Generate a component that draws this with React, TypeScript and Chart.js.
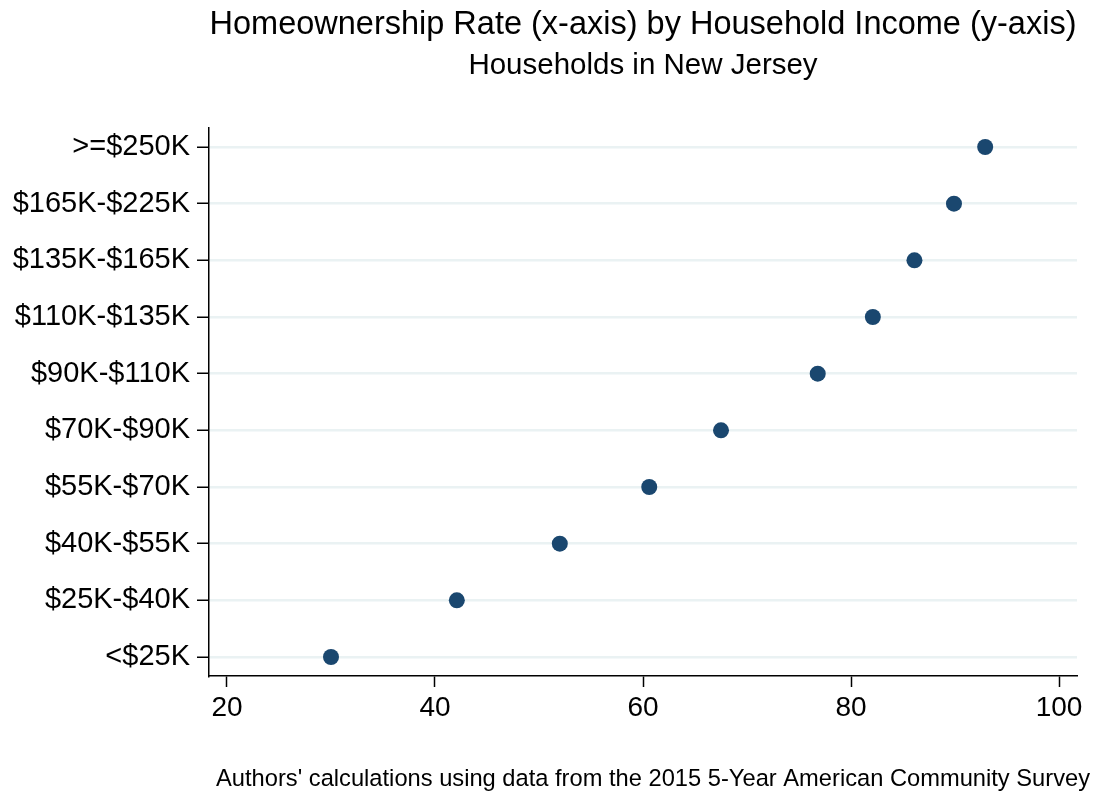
import { useEffect, useRef } from "react";
import { Chart, registerables } from "chart.js";

Chart.register(...registerables);

// income brackets from lowest to highest (drawn bottom to top)
const incomeBrackets = [
  "<$25K",
  "$25K-$40K",
  "$40K-$55K",
  "$55K-$70K",
  "$70K-$90K",
  "$90K-$110K",
  "$110K-$135K",
  "$135K-$165K",
  "$165K-$225K",
  ">=$250K",
];

// homeownership rate in percent
const ownershipRates = [30.0, 42.1, 52.0, 60.6, 67.5, 76.8, 82.1, 86.1, 89.9, 92.9];

const xTicks = [20, 40, 60, 80, 100];

const titleText = "Homeownership Rate (x-axis) by Household Income (y-axis)";
const subtitleText = "Households in New Jersey";
const noteText =
  "Authors' calculations using data from the 2015 5-Year American Community Survey";

const FONT = '"Liberation Sans", Arial, Helvetica, sans-serif';

// title, subtitle and note drawn by hand to match the Stata look
const textPlugin = {
  id: "stataText",
  afterDraw(chart: Chart) {
    const { ctx, chartArea } = chart;
    const mid = (chartArea.left + chartArea.right) / 2;
    ctx.save();
    ctx.fillStyle = "#000";
    ctx.textBaseline = "alphabetic";
    ctx.textAlign = "center";
    ctx.font = `32.5px ${FONT}`;
    ctx.fillText(titleText, mid, 34);
    ctx.font = `29.5px ${FONT}`;
    ctx.fillText(subtitleText, mid, 74);
    ctx.textAlign = "right";
    ctx.font = `23.7px ${FONT}`;
    ctx.fillText(noteText, chart.width - 9, 786);
    ctx.restore();
  },
};

export default function App() {
  const canvasRef = useRef<HTMLCanvasElement | null>(null);

  useEffect(() => {
    document.body.style.margin = "0";
    if (!canvasRef.current) return;

    const chart = new Chart(canvasRef.current, {
      type: "scatter",
      data: {
        datasets: [
          {
            label: "Homeownership rate",
            data: ownershipRates.map((rate, i) => ({ x: rate, y: i })),
            backgroundColor: "#1a476f",
            borderWidth: 0,
            pointRadius: 8,
            pointHoverRadius: 8,
          },
        ],
      },
      options: {
        animation: false,
        responsive: true,
        maintainAspectRatio: false,
        layout: { padding: { top: 128, right: 22, left: 0, bottom: 0 } },
        plugins: {
          legend: { display: false },
          tooltip: { enabled: false },
        },
        scales: {
          x: {
            type: "linear",
            min: 18.27,
            max: 101.73,
            afterBuildTicks: (scale) => {
              scale.ticks = xTicks.map((v) => ({ value: v }));
            },
            afterFit: (scale) => {
              scale.height = 116;
            },
            border: { display: true, color: "#000", width: 1.5 },
            grid: {
              drawOnChartArea: false,
              drawTicks: true,
              tickLength: 11,
              tickColor: "#000",
              tickWidth: 1.5,
            },
            ticks: {
              color: "#000",
              font: { family: FONT, size: 28 },
              padding: 4,
              maxRotation: 0,
            },
          },
          y: {
            type: "linear",
            min: -0.335,
            max: 9.335,
            afterBuildTicks: (scale) => {
              scale.ticks = incomeBrackets.map((_, i) => ({ value: i }));
            },
            afterFit: (scale) => {
              scale.width = 209;
            },
            border: { display: true, color: "#000", width: 1.5 },
            grid: {
              color: "#eaf2f3",
              lineWidth: 2.5,
              drawTicks: true,
              tickLength: 12,
              tickColor: "#000",
              tickWidth: 1.5,
            },
            ticks: {
              color: "#000",
              font: { family: FONT, size: 29 },
              padding: 7,
              callback: (value) => incomeBrackets[Number(value)] ?? "",
            },
          },
        },
      },
      plugins: [textPlugin],
    });

    return () => {
      chart.destroy();
    };
  }, []);

  return (
    <div style={{ width: 1099, height: 792, position: "relative", background: "#fff" }}>
      <canvas ref={canvasRef} />
    </div>
  );
}
